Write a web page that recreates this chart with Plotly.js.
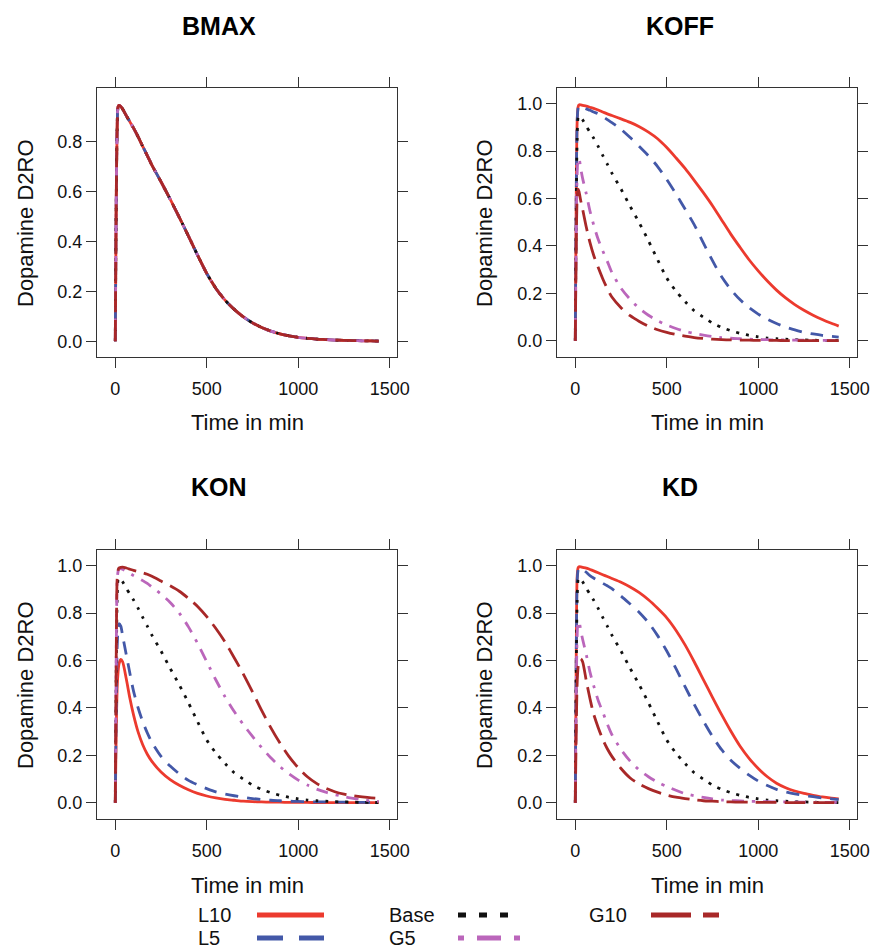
<!DOCTYPE html>
<html>
<head>
<meta charset="utf-8">
<script src="https://cdn.plot.ly/plotly-3.0.1.min.js"></script>
<style>html,body{margin:0;padding:0;background:#fff;}#chart{width:871px;height:948px;}</style>
</head>
<body>
<div id="chart"></div>
<script>
// ---------------- DATA ----------------
const TIME = [0, 5, 10, 15, 20, 30, 40, 60, 80, 100, 125, 150, 175, 200, 250, 300, 350, 400, 450, 500, 550, 600, 650, 700, 750, 800, 850, 900, 950, 1000, 1050, 1100, 1150, 1200, 1250, 1300, 1350, 1400, 1440];

const SERIES_NAMES = ["L10", "L5", "Base", "G5", "G10"];
const PANEL_TITLES = ["BMAX", "KOFF", "KON", "KD"];
const X_TICKS = [0, 500, 1000, 1500];
const Y_TICKS_BMAX = [0, 0.2, 0.4, 0.6, 0.8];
const Y_TICKS = [0, 0.2, 0.4, 0.6, 0.8, 1.0];

// BMAX: all five scenarios coincide
const BMAX_ALL = [0, 0.55, 0.85, 0.94, 0.946, 0.942, 0.932, 0.905, 0.88, 0.855, 0.82, 0.782, 0.745, 0.707, 0.64, 0.57, 0.497, 0.422, 0.345, 0.272, 0.212, 0.165, 0.128, 0.098, 0.074, 0.055, 0.041, 0.03, 0.022, 0.016, 0.012, 0.009, 0.007, 0.005, 0.004, 0.003, 0.002, 0.002, 0.001];

const BASE = [0, 0.55, 0.85, 0.94, 0.948, 0.942, 0.932, 0.905, 0.88, 0.855, 0.82, 0.782, 0.745, 0.707, 0.64, 0.567, 0.497, 0.422, 0.342, 0.265, 0.21, 0.166, 0.127, 0.1, 0.075, 0.057, 0.043, 0.032, 0.023, 0.017, 0.012, 0.009, 0.007, 0.005, 0.004, 0.003, 0.002, 0.002, 0.001];

const KOFF_L10 = [0, 0.6, 0.92, 0.985, 0.995, 0.995, 0.993, 0.99, 0.985, 0.98, 0.973, 0.965, 0.957, 0.95, 0.936, 0.921, 0.903, 0.88, 0.852, 0.815, 0.772, 0.727, 0.677, 0.625, 0.57, 0.51, 0.45, 0.395, 0.342, 0.295, 0.252, 0.214, 0.181, 0.153, 0.129, 0.108, 0.09, 0.074, 0.062];
const KOFF_L5 = [0, 0.6, 0.92, 0.98, 0.99, 0.988, 0.985, 0.978, 0.972, 0.965, 0.957, 0.946, 0.933, 0.92, 0.892, 0.857, 0.819, 0.78, 0.735, 0.68, 0.62, 0.556, 0.49, 0.413, 0.338, 0.27, 0.217, 0.174, 0.14, 0.113, 0.091, 0.073, 0.058, 0.046, 0.036, 0.029, 0.023, 0.019, 0.016];
const KOFF_G5 = [0, 0.45, 0.7, 0.765, 0.77, 0.725, 0.685, 0.62, 0.548, 0.49, 0.428, 0.38, 0.335, 0.288, 0.222, 0.175, 0.137, 0.108, 0.085, 0.067, 0.052, 0.04, 0.031, 0.024, 0.018, 0.014, 0.011, 0.009, 0.007, 0.006, 0.005, 0.004, 0.004, 0.003, 0.003, 0.002, 0.002, 0.002, 0.002];
const KOFF_G10 = [0, 0.4, 0.6, 0.64, 0.63, 0.59, 0.555, 0.48, 0.415, 0.362, 0.31, 0.262, 0.22, 0.185, 0.14, 0.106, 0.082, 0.062, 0.047, 0.036, 0.027, 0.02, 0.014, 0.01, 0.007, 0.005, 0.004, 0.003, 0.003, 0.002, 0.002, 0.002, 0.001, 0.001, 0.001, 0.001, 0.001, 0.001, 0.001];

const KON_L10 = [0, 0.3, 0.48, 0.55, 0.585, 0.605, 0.595, 0.523, 0.44, 0.37, 0.298, 0.245, 0.205, 0.175, 0.13, 0.098, 0.074, 0.055, 0.04, 0.029, 0.021, 0.015, 0.011, 0.007, 0.005, 0.004, 0.003, 0.003, 0.002, 0.002, 0.002, 0.001, 0.001, 0.001, 0.001, 0.001, 0.001, 0.001, 0.001];
const KON_L5 = [0, 0.4, 0.65, 0.73, 0.755, 0.745, 0.705, 0.625, 0.545, 0.47, 0.4, 0.342, 0.295, 0.255, 0.196, 0.155, 0.122, 0.095, 0.076, 0.06, 0.046, 0.037, 0.03, 0.024, 0.018, 0.014, 0.011, 0.009, 0.007, 0.006, 0.005, 0.004, 0.004, 0.003, 0.003, 0.002, 0.002, 0.002, 0.002];
const KON_G5 = [0, 0.6, 0.93, 0.975, 0.985, 0.988, 0.985, 0.975, 0.967, 0.958, 0.948, 0.937, 0.925, 0.91, 0.88, 0.845, 0.8, 0.742, 0.672, 0.595, 0.518, 0.447, 0.385, 0.33, 0.28, 0.233, 0.19, 0.153, 0.122, 0.096, 0.075, 0.058, 0.045, 0.035, 0.026, 0.019, 0.013, 0.009, 0.006];
const KON_G10 = [0, 0.6, 0.94, 0.98, 0.99, 0.993, 0.994, 0.99, 0.985, 0.98, 0.975, 0.97, 0.964, 0.955, 0.935, 0.915, 0.892, 0.862, 0.828, 0.785, 0.735, 0.678, 0.612, 0.543, 0.468, 0.39, 0.317, 0.252, 0.195, 0.148, 0.11, 0.082, 0.062, 0.047, 0.037, 0.03, 0.025, 0.021, 0.019];

const KD_L10 = [0, 0.6, 0.95, 0.99, 0.995, 0.995, 0.993, 0.99, 0.984, 0.978, 0.97, 0.962, 0.954, 0.946, 0.93, 0.91, 0.886, 0.856, 0.82, 0.78, 0.728, 0.666, 0.595, 0.52, 0.445, 0.372, 0.303, 0.24, 0.188, 0.145, 0.11, 0.083, 0.064, 0.05, 0.04, 0.032, 0.025, 0.02, 0.017];
const KD_L5 = [0, 0.6, 0.93, 0.98, 0.99, 0.988, 0.984, 0.972, 0.958, 0.948, 0.937, 0.926, 0.915, 0.903, 0.872, 0.838, 0.803, 0.76, 0.705, 0.64, 0.567, 0.49, 0.415, 0.345, 0.28, 0.224, 0.18, 0.146, 0.117, 0.092, 0.073, 0.057, 0.046, 0.038, 0.031, 0.026, 0.021, 0.017, 0.014];
const KD_G5 = [0, 0.45, 0.7, 0.762, 0.766, 0.725, 0.69, 0.625, 0.552, 0.495, 0.432, 0.383, 0.333, 0.288, 0.225, 0.176, 0.138, 0.11, 0.087, 0.069, 0.053, 0.039, 0.03, 0.023, 0.017, 0.012, 0.01, 0.008, 0.007, 0.006, 0.005, 0.004, 0.004, 0.003, 0.003, 0.002, 0.002, 0.002, 0.002];
const KD_G10 = [0, 0.3, 0.5, 0.57, 0.595, 0.607, 0.595, 0.515, 0.44, 0.375, 0.318, 0.268, 0.228, 0.196, 0.145, 0.105, 0.079, 0.06, 0.045, 0.033, 0.024, 0.018, 0.013, 0.009, 0.007, 0.005, 0.004, 0.003, 0.003, 0.002, 0.002, 0.002, 0.001, 0.001, 0.001, 0.001, 0.001, 0.001, 0.001];

// ---------------- STYLE ----------------
const COLORS = {L10: "#ec3a2e", L5: "#4358a8", Base: "#111111", G5: "#bb66bb", G10: "#a82828"};
const DASH = {L10: "solid", L5: "13px,9px", Base: "3px,7px", G5: "3px,8px,12px,8px", G10: "21px,8px"};
const LEG_DASH = {L10: "solid", L5: "26px,16px", Base: "8px,13px", G5: "6px,13px,24px,13px", G10: "40px,12px"};
const LEG_LEN = {L10: 67, L5: 67, Base: 52, G5: 66, G10: 68};
const FONT = "Liberation Sans, Arial, Helvetica, sans-serif";

const panels = [
  {axes: ["x", "y"], data: {L10: BMAX_ALL, L5: BMAX_ALL, Base: BMAX_ALL, G5: BMAX_ALL, G10: BMAX_ALL}},
  {axes: ["x2", "y2"], data: {L10: KOFF_L10, L5: KOFF_L5, Base: BASE, G5: KOFF_G5, G10: KOFF_G10}},
  {axes: ["x3", "y3"], data: {L10: KON_L10, L5: KON_L5, Base: BASE, G5: KON_G5, G10: KON_G10}},
  {axes: ["x4", "y4"], data: {L10: KD_L10, L5: KD_L5, Base: BASE, G5: KD_G5, G10: KD_G10}}
];

const traces = [];
panels.forEach(p => {
  SERIES_NAMES.forEach(s => {
    traces.push({
      type: "scatter", mode: "lines", name: s,
      x: TIME, y: p.data[s], xaxis: p.axes[0], yaxis: p.axes[1],
      line: {color: COLORS[s], width: 2.8, dash: DASH[s], shape: "spline", smoothing: 0.7},
      hoverinfo: "skip", showlegend: false
    });
  });
});

const W = 871, H = 948;
const px = v => v / W;
const py = v => 1 - v / H;

const xBase = {
  range: [-100, 1540], tickvals: X_TICKS, ticks: "outside", ticklen: 10, tickwidth: 1, tickcolor: "#333",
  showline: true, linecolor: "#333", linewidth: 1, mirror: "allticks", showgrid: false, zeroline: false,
  tickfont: {family: FONT, size: 18, color: "#111"}, ticklabelstandoff: 5, fixedrange: true
};
function yAx(range, ticks) {
  return {
    range: range, tickvals: ticks, tickformat: ".1f", ticks: "outside", ticklen: 10, tickwidth: 1, tickcolor: "#333",
    showline: true, linecolor: "#333", linewidth: 1, mirror: "allticks", showgrid: false, zeroline: false,
    tickfont: {family: FONT, size: 18, color: "#111"}, fixedrange: true
  };
}
const dxL = [px(97), px(397)], dxR = [px(557), px(857)];
const dyT = [py(357), py(88)], dyB = [py(819), py(550)];

const layout = {
  width: W, height: H, margin: {l: 0, r: 0, t: 0, b: 0},
  paper_bgcolor: "#fff", plot_bgcolor: "#fff", showlegend: false,
  xaxis: Object.assign({}, xBase, {domain: dxL, anchor: "y"}),
  yaxis: Object.assign(yAx([-0.063, 1.016], Y_TICKS_BMAX), {domain: dyT, anchor: "x"}),
  xaxis2: Object.assign({}, xBase, {domain: dxR, anchor: "y2"}),
  yaxis2: Object.assign(yAx([-0.068, 1.066], Y_TICKS), {domain: dyT, anchor: "x2"}),
  xaxis3: Object.assign({}, xBase, {domain: dxL, anchor: "y3"}),
  yaxis3: Object.assign(yAx([-0.068, 1.066], Y_TICKS), {domain: dyB, anchor: "x3"}),
  xaxis4: Object.assign({}, xBase, {domain: dxR, anchor: "y4"}),
  yaxis4: Object.assign(yAx([-0.068, 1.066], Y_TICKS), {domain: dyB, anchor: "x4"}),
  annotations: [],
  shapes: []
};

// panel titles and axis titles
const titlePos = [[219, 26], [680, 26], [219, 487], [680, 487]];
const boxCX = [247, 707, 247, 707];
const xlabY = [423, 423, 885, 885];
const ylabX = [25, 484, 25, 484];
const ylabY = [223, 223, 685, 685];
PANEL_TITLES.forEach((t, i) => {
  layout.annotations.push({text: "<b>" + t + "</b>", xref: "paper", yref: "paper", x: px(titlePos[i][0]), y: py(titlePos[i][1]),
    xanchor: "center", yanchor: "middle", showarrow: false, font: {family: FONT, size: 25, color: "#000"}});
  layout.annotations.push({text: "Time in min", xref: "paper", yref: "paper", x: px(boxCX[i]), y: py(xlabY[i]),
    xanchor: "center", yanchor: "middle", showarrow: false, font: {family: FONT, size: 22, color: "#111"}});
  layout.annotations.push({text: "Dopamine D2RO", xref: "paper", yref: "paper", x: px(ylabX[i]), y: py(ylabY[i]),
    xanchor: "center", yanchor: "middle", textangle: -90, showarrow: false, font: {family: FONT, size: 22, color: "#111"}});
});

// legend (key below the panels)
const legendItems = [
  {name: "L10", tx: 196, lx: 257, y: 915},
  {name: "L5", tx: 196, lx: 257, y: 938},
  {name: "Base", tx: 387, lx: 458, y: 915},
  {name: "G5", tx: 387, lx: 458, y: 938},
  {name: "G10", tx: 587, lx: 651, y: 915}
];
legendItems.forEach(it => {
  layout.annotations.push({text: it.name, xref: "paper", yref: "paper", x: px(it.tx), y: py(it.y),
    xanchor: "left", yanchor: "middle", showarrow: false, font: {family: FONT, size: 20, color: "#111"}});
  layout.shapes.push({type: "line", xref: "paper", yref: "paper", x0: px(it.lx), x1: px(it.lx + LEG_LEN[it.name]), y0: py(it.y), y1: py(it.y),
    line: {color: COLORS[it.name], width: 5, dash: LEG_DASH[it.name]}});
});

Plotly.newPlot("chart", traces, layout, {displayModeBar: false, staticPlot: true});
</script>
</body>
</html>
